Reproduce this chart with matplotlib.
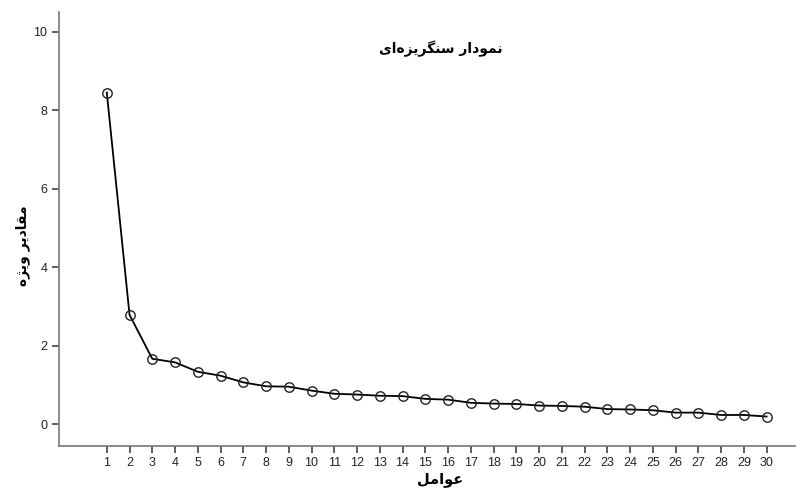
import matplotlib
matplotlib.use("Agg")
import matplotlib.pyplot as plt

# eigenvalues
factors = list(range(1, 31))
eigenvalues = [8.45, 2.79, 1.67, 1.58, 1.34, 1.24, 1.07, 0.97, 0.96, 0.86,
               0.78, 0.76, 0.73, 0.72, 0.65, 0.63, 0.55, 0.53, 0.52, 0.48,
               0.47, 0.45, 0.39, 0.38, 0.36, 0.30, 0.30, 0.24, 0.24, 0.20]
y_ticks = [0, 2, 4, 6, 8, 10]

title_text = "نمودار سنگریزه\u200cای"
ylabel_text = "مقادیر ویژه"
xlabel_text = "عوامل"

# matplotlib has no arabic shaping, so pick presentation forms by hand
# char: (isolated, final, initial, medial); None -> only joins to the right
FORMS = {
    "ا": ("\uFE8D", "\uFE8E", None, None),
    "د": ("\uFEA9", "\uFEAA", None, None),
    "ر": ("\uFEAD", "\uFEAE", None, None),
    "ز": ("\uFEAF", "\uFEB0", None, None),
    "ژ": ("\uFB8A", "\uFB8B", None, None),
    "و": ("\uFEED", "\uFEEE", None, None),
    "ن": ("\uFEE5", "\uFEE6", "\uFEE7", "\uFEE8"),
    "م": ("\uFEE1", "\uFEE2", "\uFEE3", "\uFEE4"),
    "س": ("\uFEB1", "\uFEB2", "\uFEB3", "\uFEB4"),
    "گ": ("\uFB92", "\uFB93", "\uFB94", "\uFB95"),
    "ی": ("\uFBFC", "\uFBFD", "\uFBFE", "\uFBFF"),
    "ه": ("\uFEE9", "\uFEEA", "\uFEEB", "\uFEEC"),
    "ق": ("\uFED5", "\uFED6", "\uFED7", "\uFED8"),
    "ع": ("\uFEC9", "\uFECA", "\uFECB", "\uFECC"),
    "ل": ("\uFEDD", "\uFEDE", "\uFEDF", "\uFEE0"),
}


def dual(c):
    return c in FORMS and FORMS[c][2] is not None


def shape(text):
    out = []
    for i, c in enumerate(text):
        if c not in FORMS:
            if c != "\u200c":
                out.append(c)
            continue
        prev = text[i - 1] if i > 0 else ""
        nxt = text[i + 1] if i + 1 < len(text) else ""
        join_prev = dual(prev)
        join_next = dual(c) and nxt in FORMS
        iso, fin, ini, med = FORMS[c]
        if join_prev and join_next:
            out.append(med)
        elif join_prev:
            out.append(fin)
        elif join_next:
            out.append(ini)
        else:
            out.append(iso)
    return "".join(reversed(out))


fig = plt.figure(figsize=(8.05, 4.92), dpi=100)
ax = fig.add_axes([0.0733, 0.0935, 0.9143, 0.8821])

ax.plot(factors, eigenvalues, color="black", linewidth=1.3,
        marker="o", markersize=6.8, markerfacecolor="none",
        markeredgecolor="#222222", markeredgewidth=1.0)

ax.set_xlim(-1.1, 31.25)
ax.set_ylim(-0.55, 10.5)
ax.set_xticks(factors)
ax.set_yticks(y_ticks)

for s in ["top", "right"]:
    ax.spines[s].set_visible(False)
for s in ["left", "bottom"]:
    ax.spines[s].set_color("#777777")
    ax.spines[s].set_linewidth(1.2)

ax.tick_params(axis="both", colors="#444444", labelsize=9, length=5,
               width=1.2, labelcolor="#222222")
ax.tick_params(axis="x", pad=3)
for lab in ax.get_xticklabels() + ax.get_yticklabels():
    lab.set_family("Liberation Sans")

fig.text(0.547, 0.90, shape(title_text), ha="center", va="center",
         fontsize=10, fontweight="bold", family="DejaVu Sans")
fig.text(0.028, 0.50, shape(ylabel_text), ha="center", va="center",
         rotation=90, fontsize=10, fontweight="bold", family="DejaVu Sans")
fig.text(0.547, 0.025, shape(xlabel_text), ha="center", va="center",
         fontsize=10.5, fontweight="bold", family="DejaVu Sans")

fig.savefig("out.png", dpi=100)
